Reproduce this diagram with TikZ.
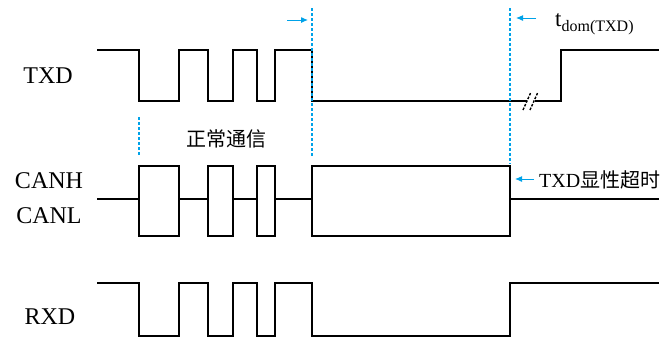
\documentclass[tikz,border=0pt]{standalone}
\usepackage{fontspec}
\setmainfont{Liberation Serif}
\newfontfamily\cjk{Noto Sans CJK SC}
\usetikzlibrary{arrows.meta}
\definecolor{cyanline}{RGB}{0,162,232}
\begin{document}
\begin{tikzpicture}[x=1pt,y=-1pt,
  sig/.style={line width=2.6pt,line join=miter,black},
  guide/.style={cyanline,line width=1.6pt,dash pattern=on 3pt off 2pt},
  marker/.style={cyanline,line width=1pt,-{Latex[length=7pt,width=6pt]}},
  lbl/.style={inner sep=0pt,font=\fontsize{24}{24}\selectfont},
  brk/.style={line width=1.4pt,dash pattern=on 2.5pt off 1.5pt}]
\useasboundingbox (0,0) rectangle (667,338);
% labels
\node[lbl] (txd) at (48,76) {TXD};
\node[lbl] (canh) at (49,181) {CANH};
\node[lbl] (canl) at (49,216) {CANL};
\node[lbl] (rxd) at (50,317) {RXD};
% TXD waveform
\draw[sig] (97,50) -- (139,50) -- (139,101) -- (179,101) -- (179,50) -- (208,50) -- (208,101)
  -- (233,101) -- (233,50) -- (257,50) -- (257,101) -- (275,101) -- (275,50) -- (312,50)
  -- (312,101) -- (527,101);
\draw[sig] (535,101) -- (561,101) -- (561,50) -- (659,50);
\draw[brk] (523,110) -- (531,92);
\draw[brk] (530,110) -- (538,92);
% CAN bus
\draw[sig] (97,199) -- (139,199);
\draw[sig] (139,166) rectangle (179,236);
\draw[sig] (179,199) -- (208,199);
\draw[sig] (208,166) rectangle (233,236);
\draw[sig] (233,199) -- (257,199);
\draw[sig] (257,166) rectangle (275,236);
\draw[sig] (275,199) -- (312,199);
\draw[sig] (312,166) rectangle (510,236);
\draw[sig] (510,199) -- (659,199);
% RXD waveform
\draw[sig] (97,283) -- (139,283) -- (139,336) -- (179,336) -- (179,283) -- (208,283) -- (208,336)
  -- (233,336) -- (233,283) -- (257,283) -- (257,336) -- (275,336) -- (275,283) -- (312,283)
  -- (312,336) -- (510,336) -- (510,283) -- (659,283);
% guide lines
\draw[guide] (139,117) -- (139,156);
\draw[guide] (312,8) -- (312,156);
\draw[guide] (510,8) -- (510,164);
% markers
\coordinate (a1s) at (287,20); \coordinate (a1e) at (308,20);
\draw[marker] (a1s) -- (a1e);
\coordinate (a2s) at (536,18); \coordinate (a2e) at (516,18);
\draw[marker] (a2s) -- (a2e);
\node[anchor=base west,inner sep=0pt,font=\fontsize{23}{23}\selectfont] (tdom) at (555,26)
  {t\raisebox{-5pt}{\fontsize{16}{16}\selectfont dom(TXD)}};
\coordinate (a3s) at (534,179); \coordinate (a3e) at (515,179);
\draw[marker] (a3s) -- (a3e);
\node[anchor=west,inner sep=0pt,font=\fontsize{20}{20}\selectfont] (timeout) at (539,180)
  {TXD{\cjk 显性超时}};
\node[inner sep=0pt,font=\fontsize{20}{20}\selectfont\cjk] (normal) at (226,139) {正常通信};
\end{tikzpicture}
\end{document}
